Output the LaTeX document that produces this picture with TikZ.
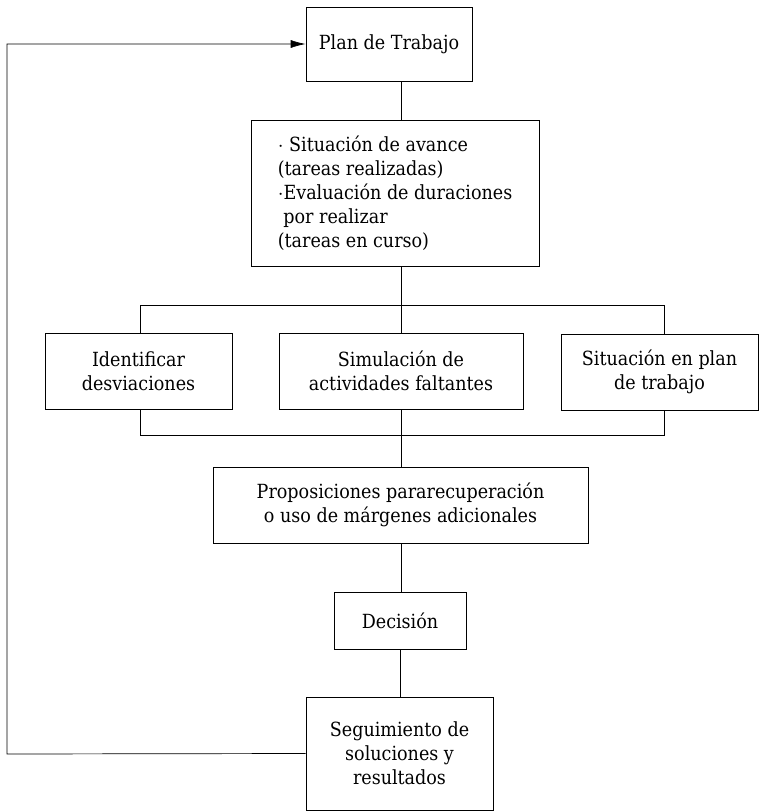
\documentclass[tikz,border=0pt]{standalone}
\usepackage{fontspec}
\setmainfont{DejaVu Serif Condensed}
\usetikzlibrary{arrows, arrows.meta, positioning}
\tikzset{
  line/.style={draw, line width=0.7pt}, % connectors
  box/.style={draw, line width=0.7pt, fill=white, align=center, inner sep=0pt,
    font=\fontsize{19.5}{24}\selectfont}, % every box
}

\begin{document}
\begin{tikzpicture}[x=1pt, y=-1pt, >={Latex[length=15pt,width=8pt]}]
    \useasboundingbox (0,0) rectangle (761,811);

    % frame round the three middle boxes
    \draw[line] (140,305) rectangle (664,435);

    \node[box, minimum width=166pt, minimum height=74pt] (plan) at (389,44) {Plan de Trabajo};
    \node[box, minimum width=288pt, minimum height=146pt, align=left] (avance) at (395,193)
      {$\cdot$ Situación de avance\\(tareas realizadas)\\$\cdot$Evaluación de duraciones\\\ por realizar\\(tareas en curso)};
    \node[box, minimum width=187pt, minimum height=76pt] (desv) at (138.5,371) {Identificar\\desviaciones};
    \node[box, minimum width=244pt, minimum height=76pt] (simul) at (401,371) {Simulación de\\actividades faltantes};
    \node[box, minimum width=197pt, minimum height=76pt] (sitplan) at (659.5,372) {Situación en plan\\de trabajo};
    \node[box, minimum width=375pt, minimum height=76pt] (prop) at (400.5,505) {Proposiciones pararecuperación\\o uso de márgenes adicionales};
    \node[box, minimum width=132pt, minimum height=57pt] (dec) at (400,620.5) {Decisión};
    \node[box, minimum width=187pt, minimum height=113pt] (seg) at (399.5,753.5) {Seguimiento de\\soluciones y\\resultados};

    \coordinate (back) at (7,754);

    \draw[line] (plan.south -| simul) -- (avance.north -| simul);
    \draw[line] (avance.south -| simul) -- (simul);
    \draw[line] (simul) -- (prop.north -| simul);
    \draw[line] (prop.south -| simul) -- (dec.north -| simul);
    \draw[line] (dec) -- (seg.north -| dec);
    \draw[line, ->] (seg.west) -- (back) |- (plan.west);
\end{tikzpicture}
\end{document}
